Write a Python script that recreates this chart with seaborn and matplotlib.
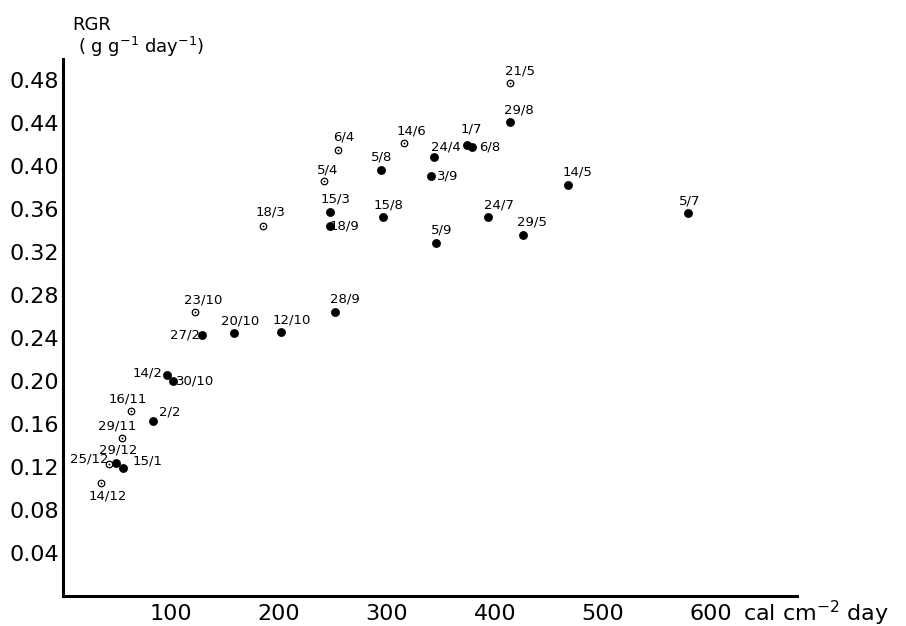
import pandas as pd
import matplotlib
matplotlib.use("Agg")
import matplotlib.pyplot as plt
import seaborn as sns

# ---- dados ----
dates = ["21/5", "29/8", "14/6", "1/7", "6/8", "24/4", "3/9", "5/8", "14/5",
         "24/7", "15/8", "29/5", "5/9", "5/7", "6/4", "5/4", "15/3", "18/9",
         "18/3", "28/9", "12/10", "20/10", "27/2", "23/10", "14/2", "30/10",
         "16/11", "2/2", "29/11", "25/12", "29/12", "15/1", "14/12"]
radiation = [414, 414, 316, 374, 379, 344, 341, 295, 468,
             394, 296, 426, 346, 579, 255, 242, 247, 247,
             185, 252, 202, 158, 129, 122, 96, 102,
             63, 83, 55, 43, 49, 56, 35]
rgr = [0.477, 0.441, 0.421, 0.420, 0.418, 0.408, 0.391, 0.396, 0.382,
       0.353, 0.353, 0.336, 0.328, 0.356, 0.415, 0.386, 0.357, 0.344,
       0.344, 0.264, 0.246, 0.245, 0.243, 0.264, 0.206, 0.200,
       0.172, 0.163, 0.147, 0.123, 0.124, 0.119, 0.105]
is_open = [True, False, True, False, False, False, False, False, False,
           False, False, False, False, False, True, True, False, False,
           True, False, False, False, False, True, False, False,
           True, False, True, True, False, False, True]

x_ticks = [50, 100, 150, 200, 250, 300, 350, 400, 450, 500, 550, 600]
x_labels = ["", "100", "", "200", "", "300", "", "400", "", "500", "", "600"]
y_ticks = [0.04, 0.08, 0.12, 0.16, 0.20, 0.24, 0.28, 0.32, 0.36, 0.40, 0.44, 0.48]
y_labels = ["0.04", "0.08", "0.12", "0.16", "0.20", "0.24", "0.28", "0.32",
            "0.36", "0.40", "0.44", "0.48"]

# deslocamento dos rótulos (pixels) em relação ao ponto
label_offset = {
    "21/5": (10, 12), "29/8": (9, 12), "14/6": (7, 12), "1/7": (5, 15),
    "6/8": (18, 0), "24/4": (12, 10), "3/9": (17, 0), "5/8": (0, 13),
    "14/5": (9, 13), "24/7": (11, 12), "15/8": (6, 12), "29/5": (9, 13),
    "5/9": (5, 13), "5/7": (2, 12), "6/4": (5, 13), "5/4": (3, 11),
    "15/3": (6, 13), "18/9": (15, 0), "18/3": (8, 14), "28/9": (10, 13),
    "12/10": (11, 12), "20/10": (7, 12), "27/2": (-17, 0), "23/10": (8, 12),
    "14/2": (-19, 2), "30/10": (22, 0), "16/11": (-3, 12), "2/2": (17, 9),
    "29/11": (-5, 12), "25/12": (-20, 5), "29/12": (2, 13), "15/1": (24, 7),
    "14/12": (7, -13),
}

df = pd.DataFrame({"date": dates, "x": radiation, "y": rgr, "open": is_open})

sns.set_theme(style="white", rc={"text.color": "black", "xtick.color": "black",
                                 "ytick.color": "black", "axes.edgecolor": "black"})
plt.rcParams["font.family"] = ["DejaVu Sans"]

fig = plt.figure(figsize=(9.06, 6.26), dpi=100)
ax = fig.add_axes([63 / 906, 30 / 626, 734 / 906, 537.5 / 626])

sns.scatterplot(data=df[~df["open"]], x="x", y="y", ax=ax, color="black",
                s=34, edgecolor="black", linewidth=0.5, legend=False, zorder=3)
sns.scatterplot(data=df[df["open"]], x="x", y="y", ax=ax, facecolor="white",
                s=22, edgecolor="black", linewidth=0.9, legend=False, zorder=3)
sns.scatterplot(data=df[df["open"]], x="x", y="y", ax=ax, color="black",
                s=2, linewidth=0, legend=False, zorder=4)

for d, xv, yv in zip(dates, radiation, rgr):
    dx, dy = label_offset[d]
    ax.annotate(d, (xv, yv), xytext=(dx, dy), textcoords="offset pixels",
                ha="center", va="center", fontsize=9.5, color="black")

ax.set_xlim(0, 680)
ax.set_ylim(0, 0.50)
ax.set_xticks(x_ticks)
ax.set_xticklabels(x_labels)
ax.set_yticks(y_ticks)
ax.set_yticklabels(y_labels)
ax.tick_params(axis="both", direction="in", length=9, width=1.5,
               labelsize=16, color="black", labelcolor="black")
ax.tick_params(axis="x", pad=6)
ax.tick_params(axis="y", pad=3)

for side in ["top", "right"]:
    ax.spines[side].set_visible(False)
for side in ["left", "bottom"]:
    ax.spines[side].set_linewidth(2.2)
    ax.spines[side].set_color("black")

ax.set_xlabel("")
ax.set_ylabel("")

ax.text(630, -0.016, "cal cm$^{-2}$ day", ha="left", va="center",
        fontsize=16, clip_on=False)
fig.text(72 / 906, 1 - 25 / 626, "RGR", ha="left", va="center", fontsize=13)
fig.text(78 / 906, 1 - 47 / 626, "( g g$^{-1}$ day$^{-1}$)", ha="left",
         va="center", fontsize=13)

fig.savefig("out.png", dpi=100)
